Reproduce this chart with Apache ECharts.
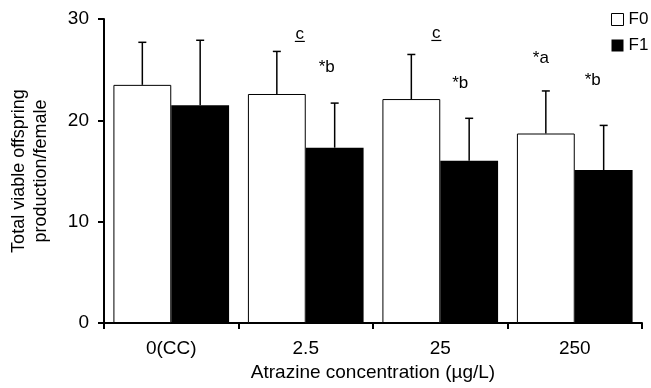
<!DOCTYPE html>
<html>
<head>
<meta charset="utf-8">
<script src="https://cdn.jsdelivr.net/npm/echarts@6/dist/echarts.min.js"></script>
<style>
html,body{margin:0;padding:0;background:#fff;}
#c{width:651px;height:388px;}
</style>
</head>
<body>
<div id="c"></div>
<script>
// ---- data ----
var categories = ['0(CC)', '2.5', '25', '250'];
var seriesNames = ['F0', 'F1'];
var f0Mean = [23.5, 22.6, 22.1, 18.7];
var f0Upper = [27.7, 26.8, 26.5, 22.9];
var f1Mean = [21.5, 17.3, 16.0, 15.1];
var f1Upper = [27.9, 21.7, 20.2, 19.5];
var f0Annot = ['', 'c', 'c', '*a'];
var f1Annot = ['', '*b', '*b', '*b'];
var f0AnnotUnderline = [false, true, true, false];
var f1AnnotUnderline = [false, false, false, false];
var yTicksMin = 0, yTicksMax = 30, yTickStep = 10;
var xTitle = 'Atrazine concentration (\u00b5g/L)';
var yTitle = 'Total viable offspring\nproduction/female';

// ---- layout (pixel offsets for annotations, not data) ----
var annotOffset = [
  [[0,0],[23,-17],[25,-21],[-5,-33]],
  [[0,0],[-8,-36],[-9,-35],[-11,-45]]
];
var FONT = '"Liberation Sans", Arial, sans-serif';
var GAP = 0.14;

function barCenterX(api, cat, val, idx) {
  var c = api.coord([cat, val]);
  var band = api.size([1, 0])[0];
  var bw = band * (1 - GAP) / 2;
  return [c[0] + (idx === 0 ? -bw / 2 : bw / 2), c[1]];
}

function errSeries(idx, means, uppers) {
  var data = means.map(function (m, i) { return [i, m, uppers[i]]; });
  return {
    type: 'custom',
    name: 'err' + idx,
    silent: true,
    z: 5,
    data: data,
    renderItem: function (params, api) {
      var cat = api.value(0), m = api.value(1), u = api.value(2);
      var p0 = barCenterX(api, cat, m, idx);
      var p1 = barCenterX(api, cat, u, idx);
      var cw = 4;
      return {
        type: 'group',
        children: [
          {type: 'line', shape: {x1: p0[0], y1: p0[1], x2: p1[0], y2: p1[1]}, style: {stroke: '#000', lineWidth: 1.5}},
          {type: 'line', shape: {x1: p1[0] - cw, y1: p1[1], x2: p1[0] + cw, y2: p1[1]}, style: {stroke: '#000', lineWidth: 1.5}}
        ]
      };
    }
  };
}

function annotSeries(idx, uppers, texts, underline) {
  var data = uppers.map(function (u, i) { return [i, u]; });
  return {
    type: 'custom',
    name: 'annot' + idx,
    silent: true,
    z: 6,
    data: data,
    renderItem: function (params, api) {
      var i = params.dataIndex;
      var t = texts[i];
      if (!t) return {type: 'group', children: []};
      var p = barCenterX(api, api.value(0), api.value(1), idx);
      var off = annotOffset[idx][i];
      var x = p[0] + off[0], y = p[1] + off[1];
      var ch = [{
        type: 'text',
        style: {text: t, x: x, y: y, align: 'center', verticalAlign: 'middle', fill: '#000', font: '17px ' + FONT}
      }];
      if (underline[i]) {
        ch.push({type: 'line', shape: {x1: x - 5, y1: y + 7, x2: x + 5, y2: y + 7}, style: {stroke: '#000', lineWidth: 1.2}});
      }
      return {type: 'group', children: ch};
    }
  };
}

var chart = echarts.init(document.getElementById('c'), null, {renderer: 'canvas'});
chart.setOption({
  animation: false,
  backgroundColor: '#fff',
  textStyle: {fontFamily: FONT, color: '#000'},
  grid: {left: 100, right: 9, top: 19, bottom: 65, containLabel: false},
  legend: {
    orient: 'vertical',
    left: 611,
    top: 11,
    padding: 0,
    itemWidth: 12,
    itemHeight: 12,
    itemGap: 9,
    selectedMode: false,
    icon: 'rect',
    textStyle: {fontSize: 17, color: '#000', fontFamily: FONT},
    data: [
      {name: seriesNames[0], itemStyle: {color: '#fff', borderColor: '#000', borderWidth: 1}},
      {name: seriesNames[1], itemStyle: {color: '#000', borderColor: '#000', borderWidth: 0}}
    ]
  },
  xAxis: {
    type: 'category',
    data: categories,
    boundaryGap: true,
    axisLine: {lineStyle: {color: '#000', width: 2}},
    axisTick: {show: true, alignWithLabel: false, length: 6, lineStyle: {color: '#000', width: 2}},
    axisLabel: {fontSize: 19, color: '#000', margin: 16, fontFamily: FONT},
    name: xTitle,
    nameLocation: 'middle',
    nameGap: 40,
    nameTextStyle: {fontSize: 19, color: '#000', fontFamily: FONT}
  },
  yAxis: {
    type: 'value',
    min: yTicksMin,
    max: yTicksMax,
    interval: yTickStep,
    splitLine: {show: false},
    axisLine: {show: true, lineStyle: {color: '#000', width: 2}},
    axisTick: {show: true, length: 6, lineStyle: {color: '#000', width: 2}},
    axisLabel: {fontSize: 19, color: '#000', margin: 15, fontFamily: FONT},
    name: yTitle,
    nameLocation: 'middle',
    nameRotate: 90,
    nameGap: 52,
    nameTextStyle: {fontSize: 18, color: '#000', fontFamily: FONT, lineHeight: 22, align: 'center'}
  },
  series: [
    {
      type: 'bar', name: seriesNames[0], data: f0Mean,
      barGap: '0%', barCategoryGap: (GAP * 100) + '%',
      itemStyle: {color: '#fff', borderColor: '#000', borderWidth: 1}
    },
    {
      type: 'bar', name: seriesNames[1], data: f1Mean,
      barGap: '0%', barCategoryGap: (GAP * 100) + '%',
      itemStyle: {color: '#000', borderColor: '#000', borderWidth: 0}
    },
    errSeries(0, f0Mean, f0Upper),
    errSeries(1, f1Mean, f1Upper),
    annotSeries(0, f0Upper, f0Annot, f0AnnotUnderline),
    annotSeries(1, f1Upper, f1Annot, f1AnnotUnderline)
  ]
});
</script>
</body>
</html>
